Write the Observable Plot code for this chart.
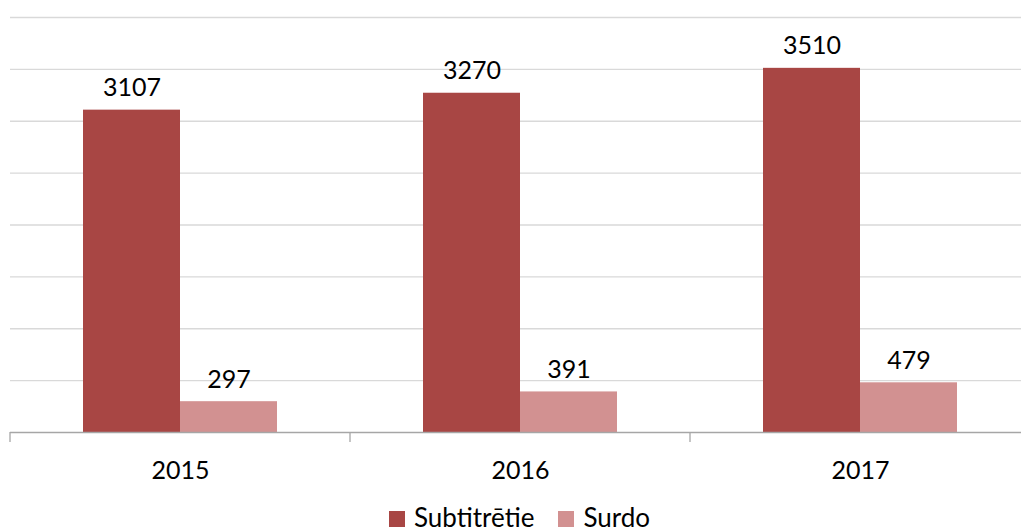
<!DOCTYPE html>
<html><head><meta charset="utf-8">
<script src="https://cdn.jsdelivr.net/npm/d3@7"></script>
<script src="https://cdn.jsdelivr.net/npm/@observablehq/plot@0.6"></script>
<style>
html,body{margin:0;padding:0;background:#fff;overflow:hidden;width:1021px;height:532px}
#chart{position:relative;width:1021px;height:532px}
.legend{position:absolute;left:389px;top:504px;height:26px;display:flex;align-items:center;font-family:Lato, sans-serif;font-size:26px;color:#000;line-height:26px}
.legend .item{display:flex;align-items:center;margin-right:24px}
.legend .sw{width:16px;height:16px;margin-right:9px;margin-top:3px}
</style></head><body><div id="chart"></div>
<script>
const years = ["2015", "2016", "2017"];
const series = ["Subtitrētie", "Surdo"];
const subtitretie = [3107, 3270, 3510];
const surdo = [297, 391, 479];
const colors = ["#a84644", "#d29191"];
const yTicks = [500, 1000, 1500, 2000, 2500, 3000, 3500, 4000];

const data = years.flatMap((yr, i) => [
  {year: yr, series: series[0], value: subtitretie[i]},
  {year: yr, series: series[1], value: surdo[i]}
]);

const plot = Plot.plot({
  width: 1021, height: 495,
  marginTop: 17, marginBottom: 63, marginLeft: 10, marginRight: 0,
  style: {fontFamily: "Lato, sans-serif", overflow: "hidden", background: "#fff"},
  fx: {domain: years, range: [10, 1030], padding: 0, label: null},
  x: {domain: series, paddingInner: 0, paddingOuter: 0.744, axis: null},
  y: {domain: [0, 4000], axis: null},
  color: {domain: series, range: colors},
  marks: [
    Plot.ruleY(yTicks, {stroke: "#d9d9d9", strokeWidth: 1.3}),
    Plot.barY(data, {fx: "year", x: "series", y: "value", fill: "series"}),
    Plot.ruleY([0], {stroke: "#a6a6a6", strokeWidth: 1.3}),
    Plot.text(data, {fx: "year", x: "series", y: "value", text: d => String(d.value), lineAnchor: "bottom", dy: -14, fontSize: 25, fill: "#000"}),
    Plot.axisFx({anchor: "bottom", tickSize: 0, tickPadding: 29, fontSize: 25, label: null, color: "#000"})
  ]
});

// group-boundary ticks on the category axis
const fxs = plot.scale("fx");
const ys = plot.scale("y");
const y0 = ys.apply(0);
const edges = years.map(y => fxs.apply(y)).concat([fxs.apply(years[years.length - 1]) + fxs.bandwidth]);
d3.select(plot).append("g").selectAll("line").data(edges).join("line")
  .attr("x1", d => d).attr("x2", d => d)
  .attr("y1", y0).attr("y2", y0 + 10)
  .attr("stroke", "#a6a6a6").attr("stroke-width", 1.3);

const chart = document.getElementById("chart");
chart.appendChild(plot);

const legend = document.createElement("div");
legend.className = "legend";
series.forEach((s, i) => {
  const item = document.createElement("div");
  item.className = "item";
  const sw = document.createElement("span");
  sw.className = "sw";
  sw.style.background = colors[i];
  const t = document.createElement("span");
  t.textContent = s;
  item.appendChild(sw); item.appendChild(t);
  legend.appendChild(item);
});
chart.appendChild(legend);
</script>
</body></html>
